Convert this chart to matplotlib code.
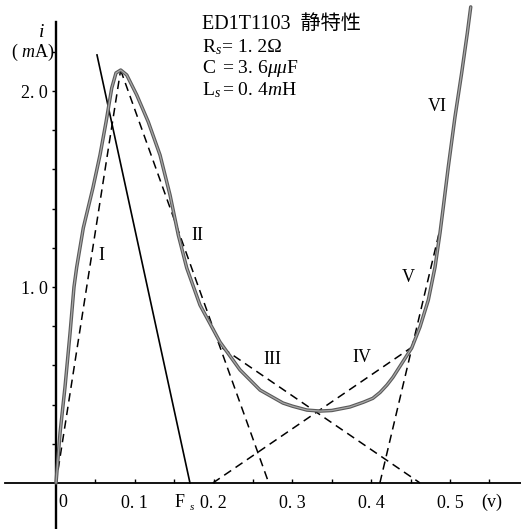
import numpy as np
import matplotlib
matplotlib.use("Agg")
import matplotlib.pyplot as plt

# =========================================================
# ED1T1103 static characteristic (tunnel diode)
# =========================================================

OUTPUT_PNG = "out.png"

# measured curve: voltage (V) / current (mA)
CURVE_V = [0.0000, 0.0051, 0.0114, 0.0178, 0.0228, 0.0262, 0.0346, 0.0468, 0.0558,
           0.0635, 0.0707, 0.0761, 0.0821, 0.0897, 0.1024, 0.1171, 0.1320, 0.1447,
           0.1552, 0.1659, 0.1827, 0.2081, 0.2335, 0.2590, 0.2880, 0.3000, 0.3185,
           0.3350, 0.3500, 0.3730, 0.3900, 0.4020, 0.4112, 0.4200, 0.4277, 0.4514,
           0.4619, 0.4725, 0.4810, 0.4873, 0.4915, 0.4978, 0.5063, 0.5148, 0.5220,
           0.5263]
CURVE_I = [0.000, 0.255, 0.490, 0.765, 1.000, 1.100, 1.301, 1.505, 1.673,
           1.842, 2.015, 2.092, 2.107, 2.082, 1.980, 1.842, 1.673, 1.469,
           1.265, 1.097, 0.908, 0.719, 0.577, 0.474, 0.408, 0.392, 0.372,
           0.367, 0.370, 0.388, 0.412, 0.432, 0.462, 0.500, 0.540, 0.689,
           0.796, 0.934, 1.102, 1.276, 1.408, 1.612, 1.867, 2.092, 2.296,
           2.429]

# piecewise-linear approximation (dashed), one segment per region
SEG_NAMES = ["I", "II", "III", "IV", "V"]
SEG_V0 = [0.000, 0.082, 0.211, 0.199, 0.411]
SEG_I0 = [0.000, 2.107, 0.689, 0.000, 0.000]
SEG_V1 = [0.082, 0.270, 0.462, 0.452, 0.487]
SEG_I1 = [2.107, 0.000, 0.000, 0.694, 1.290]

# load line ending at F_s
LOAD_V = [0.052, 0.170]
LOAD_I = [2.184, 0.000]

# region labels
REGION_LABELS = ["I", "II", "III", "IV", "V", "VI"]
REGION_V = [0.058, 0.180, 0.274, 0.388, 0.447, 0.4835]
REGION_I = [1.163, 1.265, 0.628, 0.638, 1.051, 1.923]

X_TICKS = [0.05, 0.10, 0.15, 0.20, 0.25, 0.30, 0.35, 0.40, 0.45, 0.50, 0.55]
X_TICK_LABELS = ["", "0. 1", "", "0. 2", "", "0. 3", "", "0. 4", "", "0. 5", ""]
Y_TICKS = [0.2, 0.4, 0.6, 0.8, 1.0, 1.2, 1.4, 1.6, 1.8, 2.0, 2.2]
Y_TICK_LABELS = ["", "", "", "", "1. 0", "", "", "", "", "2. 0", ""]

SERIF = ["Liberation Serif", "Noto Sans CJK JP", "DejaVu Serif"]

plt.rcParams["font.family"] = SERIF
plt.rcParams["mathtext.fontset"] = "custom"
plt.rcParams["mathtext.rm"] = "Liberation Serif"
plt.rcParams["mathtext.it"] = "Liberation Serif:italic"


def build_plot():
    fig = plt.figure(figsize=(5.21, 5.29), dpi=100)
    ax = fig.add_axes([0, 0, 1, 1])
    ax.set_xlim(-0.0711, 0.5901)
    ax.set_ylim(-0.2347, 2.4643)

    # axes through the origin
    for side in ("top", "right"):
        ax.spines[side].set_visible(False)
    ax.spines["left"].set_position(("data", 0))
    ax.spines["bottom"].set_position(("data", 0))
    ax.spines["left"].set_bounds(-0.235, 2.35)
    ax.spines["bottom"].set_bounds(-0.065, 0.59)
    ax.spines["left"].set_linewidth(1.7)
    ax.spines["bottom"].set_linewidth(1.3)

    ax.set_xticks(X_TICKS)
    ax.set_xticklabels(X_TICK_LABELS)
    ax.set_yticks(Y_TICKS)
    ax.set_yticklabels(Y_TICK_LABELS)
    ax.tick_params(axis="x", direction="in", length=3, width=1, pad=9, labelsize=13)
    ax.tick_params(axis="y", direction="out", length=3, width=1, pad=3, labelsize=13)

    # measured characteristic: grey stroke with darker rim
    ax.plot(CURVE_V, CURVE_I, color="#5a5a5a", lw=2.5, solid_capstyle="round",
            solid_joinstyle="round", zorder=3)
    ax.plot(CURVE_V, CURVE_I, color="#a8a8a8", lw=0.9, solid_capstyle="round",
            solid_joinstyle="round", zorder=4)

    # dashed approximation
    for v0, i0, v1, i1 in zip(SEG_V0, SEG_I0, SEG_V1, SEG_I1):
        ax.plot([v0, v1], [i0, i1], color="black", lw=1.1,
                linestyle=(0, (5.5, 3.5)), zorder=2)

    ax.plot(LOAD_V, LOAD_I, color="black", lw=1.2, zorder=2)

    for lab, v, i in zip(REGION_LABELS, REGION_V, REGION_I):
        ax.text(v, i, lab, ha="center", va="center", fontsize=13)

    # axis annotations
    ax.text(-0.0178, 2.301, "i", ha="center", va="center", fontsize=14,
            style="italic")
    ax.text(-0.001, 2.199, "( $m$A)", ha="right", va="center", fontsize=13)
    ax.text(0.003, -0.097, "0", ha="left", va="center", fontsize=13)
    ax.text(0.553, -0.097, "(v)", ha="center", va="center", fontsize=13)
    ax.text(0.157, -0.097, "F", ha="center", va="center", fontsize=13)
    ax.text(0.172, -0.125, "s", ha="center", va="center", fontsize=8,
            style="italic")

    # device data block
    x0, x1 = 0.1853, 0.2107
    ax.text(x0, 2.337, "ED1T1103  静特性", ha="left", va="center", fontsize=14.5)
    ax.text(x0, 2.224, "R$_s$", ha="left", va="center", fontsize=14)
    ax.text(x1, 2.224, "= 1. 2Ω", ha="left", va="center", fontsize=14)
    ax.text(x0, 2.117, "C", ha="left", va="center", fontsize=14)
    ax.text(x1, 2.117, r"= 3. 6$\mu\mu$F", ha="left", va="center", fontsize=14)
    ax.text(x0, 2.005, "L$_s$", ha="left", va="center", fontsize=14)
    ax.text(x1, 2.005, "= 0. 4$m$H", ha="left", va="center", fontsize=14)

    fig.savefig(OUTPUT_PNG, dpi=100)
    plt.close(fig)


def main():
    build_plot()


if __name__ == "__main__":
    main()
